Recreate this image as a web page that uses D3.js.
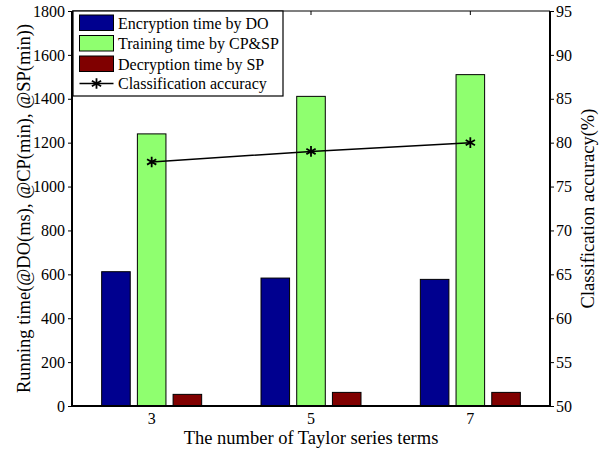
<!DOCTYPE html>
<html>
<head>
<meta charset="utf-8">
<script src="https://cdn.jsdelivr.net/npm/d3@7"></script>
<style>
  html, body { margin: 0; padding: 0; background: #fff; }
  svg { display: block; font-family: "Liberation Serif", "Times New Roman", serif; }
</style>
</head>
<body>
<svg id="chart" width="602" height="450"></svg>
<script>
// Number of Taylor series terms (x categories)
const terms = ["3", "5", "7"];
// Running times (left axis)
const encryptionDO = [612, 583, 577];
const trainingCPSP = [1240, 1411, 1510];
const decryptionSP = [53, 62, 62];
// Classification accuracy in % (right axis)
const accuracy = [77.8, 79.0, 80.0];

const seriesNames = ["Encryption time by DO", "Training time by CP&SP", "Decryption time by SP"];
const seriesColors = ["#00008f", "#8fff6f", "#800000"];
const leftTicks = [0, 200, 400, 600, 800, 1000, 1200, 1400, 1600, 1800];
const rightTicks = [50, 55, 60, 65, 70, 75, 80, 85, 90, 95];

const FONT = "Liberation Serif, Times New Roman, serif";
const svg = d3.select("#chart");
const m = { left: 72, right: 550, top: 11, bottom: 406 };

const x = d3.scaleBand().domain(terms).range([m.left, m.right]).padding(0);
const sub = d3.scaleBand().domain(d3.range(3)).range([-50, 50]).paddingInner(0.2);
const yL = d3.scaleLinear().domain([0, 1800]).range([m.bottom, m.top]);
const yR = d3.scaleLinear().domain([50, 95]).range([m.bottom, m.top]);

const values = [encryptionDO, trainingCPSP, decryptionSP];

// Bars
values.forEach((vals, s) => {
  svg.append("g").selectAll("rect").data(terms).join("rect")
    .attr("x", (t) => x(t) + x.bandwidth() / 2 + sub(s))
    .attr("y", (t, i) => yL(vals[i]))
    .attr("width", sub.bandwidth())
    .attr("height", (t, i) => yL(0) - yL(vals[i]))
    .attr("fill", seriesColors[s])
    .attr("stroke", "#000")
    .attr("stroke-width", 1);
});

// Frame: top border
svg.append("line").attr("x1", m.left).attr("x2", m.right).attr("y1", m.top).attr("y2", m.top)
  .attr("stroke", "#000").attr("stroke-width", 1.2);

// Top category ticks
svg.append("g").selectAll("line").data(terms).join("line")
  .attr("x1", (t) => x(t) + x.bandwidth() / 2).attr("x2", (t) => x(t) + x.bandwidth() / 2)
  .attr("y1", m.top).attr("y2", m.top + 4)
  .attr("stroke", "#000").attr("stroke-width", 1);

// Left axis
const axL = svg.append("g").attr("transform", `translate(${m.left},0)`)
  .call(d3.axisLeft(yL).tickValues(leftTicks).tickSize(4).tickPadding(3).tickFormat(d3.format("d")));
// Right axis
const axR = svg.append("g").attr("transform", `translate(${m.right},0)`)
  .call(d3.axisRight(yR).tickValues(rightTicks).tickSize(4).tickPadding(2).tickFormat(d3.format("d")));
// Bottom axis
const axB = svg.append("g").attr("transform", `translate(0,${m.bottom})`)
  .call(d3.axisBottom(x).tickSize(0).tickPadding(7));

[axL, axR, axB].forEach((g) => {
  g.attr("font-family", FONT).attr("font-size", 16);
  g.selectAll(".domain").attr("stroke", "#000").attr("stroke-width", 2);
  g.selectAll(".tick line").attr("stroke", "#000");
  g.selectAll("text").attr("fill", "#000");
});
axL.select(".domain").attr("d", `M0,${m.top}V${m.bottom}`);
axR.select(".domain").attr("d", `M0,${m.top}V${m.bottom}`);
axB.select(".domain").attr("d", `M${m.left},0H${m.right}`);

// Accuracy line with asterisk markers
const cx = (i) => x(terms[i]) + x.bandwidth() / 2;
svg.append("path")
  .datum(accuracy)
  .attr("d", d3.line().x((d, i) => cx(i)).y((d) => yR(d)))
  .attr("fill", "none").attr("stroke", "#000").attr("stroke-width", 1.5);
const star = d3.symbol(d3.symbolAsterisk, 80);
svg.append("g").selectAll("path").data(accuracy).join("path")
  .attr("transform", (d, i) => `translate(${cx(i)},${yR(d)})`)
  .attr("d", star).attr("fill", "none").attr("stroke", "#000").attr("stroke-width", 1.8);

// Axis titles
svg.append("text").attr("text-anchor", "middle")
  .attr("x", (m.left + m.right) / 2).attr("y", 444)
  .attr("font-family", FONT).attr("font-size", 18.5).text("The number of Taylor series terms");
svg.append("text").attr("text-anchor", "middle")
  .attr("transform", `translate(30,${(m.top + m.bottom) / 2}) rotate(-90)`)
  .attr("font-family", FONT).attr("font-size", 18.5).text("Running time(@DO(ms), @CP(min), @SP(min))");
svg.append("text").attr("text-anchor", "middle")
  .attr("transform", `translate(594,${(m.top + m.bottom) / 2}) rotate(-90)`)
  .attr("font-family", FONT).attr("font-size", 18.5).text("Classification accuracy(%)");

// Legend
const lg = svg.append("g").attr("transform", `translate(73,11)`).attr("font-family", FONT);
lg.append("rect").attr("width", 210).attr("height", 85)
  .attr("fill", "#fff").attr("stroke", "#000").attr("stroke-width", 1.2);
seriesNames.forEach((name, i) => {
  const yy = 12 + i * 20.5;
  lg.append("rect").attr("x", 6.5).attr("y", yy - 8).attr("width", 34).attr("height", 15.5)
    .attr("fill", seriesColors[i]).attr("stroke", "#000").attr("stroke-width", 1);
  lg.append("text").attr("x", 45).attr("y", yy).attr("dy", "0.35em")
    .attr("font-size", 16).text(name);
});
const ly = 12 + 3 * 20.5 - 1;
lg.append("line").attr("x1", 6.5).attr("x2", 40.5).attr("y1", ly).attr("y2", ly)
  .attr("stroke", "#000").attr("stroke-width", 1.5);
lg.append("path").attr("transform", `translate(23.5,${ly})`).attr("d", star)
  .attr("fill", "none").attr("stroke", "#000").attr("stroke-width", 1.8);
lg.append("text").attr("x", 45).attr("y", ly).attr("dy", "0.35em")
  .attr("font-size", 16).text("Classification accuracy");
</script>
</body>
</html>
